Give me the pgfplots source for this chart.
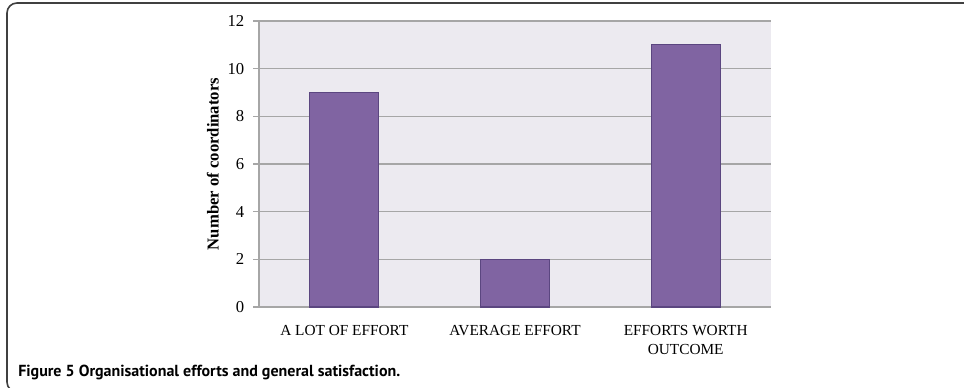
\documentclass[border=0pt]{standalone}
\usepackage{fontspec}
\setmainfont{Liberation Serif}
\newfontfamily\capfont{PT Sans}
\usepackage{pgfplots}
\pgfplotsset{compat=1.18}
\definecolor{barfill}{HTML}{8064A2}
\definecolor{barline}{HTML}{5B4680}
\definecolor{plotbg}{HTML}{ECEAF0}
\definecolor{gridc}{HTML}{A6A6A6}
\begin{document}
\begin{tikzpicture}
\useasboundingbox (0,0) rectangle (723pt,-291pt);
\begin{scope}
\clip (0,0) rectangle (723pt,-291pt);
\draw[line width=1.2pt, black!75, rounded corners=7.5pt] (5.25pt,-2.25pt) rectangle (740pt,-294pt);
\end{scope}
\begin{axis}[
  at={(194.25pt,-230.25pt)}, anchor=south west,
  scale only axis,
  width=384pt, height=214.5pt,
  xmin=-0.5, xmax=2.5, ymin=0, ymax=12,
  /pgf/number format/assume math mode=true,
  ytick={0,2,...,12},
  xtick={0,1,2},
  xticklabels={A LOT OF EFFORT, AVERAGE EFFORT, {EFFORTS WORTH\\OUTCOME}},
  x tick label style={align=center, font=\fontsize{11.5}{14.25}\selectfont, yshift=-5.5pt},
  y tick label style={font=\fontsize{12.5}{14}\selectfont, xshift=-3pt},
  xtick style={draw=none},
  extra x ticks={-0.5,0.5,1.5,2.5},
  extra x tick labels={},
  extra x tick style={grid=none, major tick length=4pt, tick style={draw=gridc, thick}},
  tick align=outside,
  major tick length=4.5pt,
  ytick style={draw=gridc, thick},
  ymajorgrids,
  grid style={draw=gridc, line width=0.9pt},
  axis x line*=bottom, axis y line*=left,
  axis line style={draw=gridc, line width=0.9pt, -},
  axis background/.style={fill=plotbg},
  ylabel={\bfseries Number of coordinators},
  ylabel style={font=\fontsize{12.5}{14}\selectfont, at={(axis description cs:-0.09,0.5)}, anchor=center},
  ybar, bar width=51.75pt,
  clip=false,
]
\addplot[fill=barfill, draw=barline, line width=0.9pt] coordinates {(0,9) (1,2) (2,11)};
\end{axis}
\node[anchor=base west, inner sep=0pt, font=\capfont\bfseries\fontsize{12}{14}\selectfont] at (13.5pt,-282pt) {Figure 5 Organisational efforts and general satisfaction.};
\end{tikzpicture}
\end{document}
